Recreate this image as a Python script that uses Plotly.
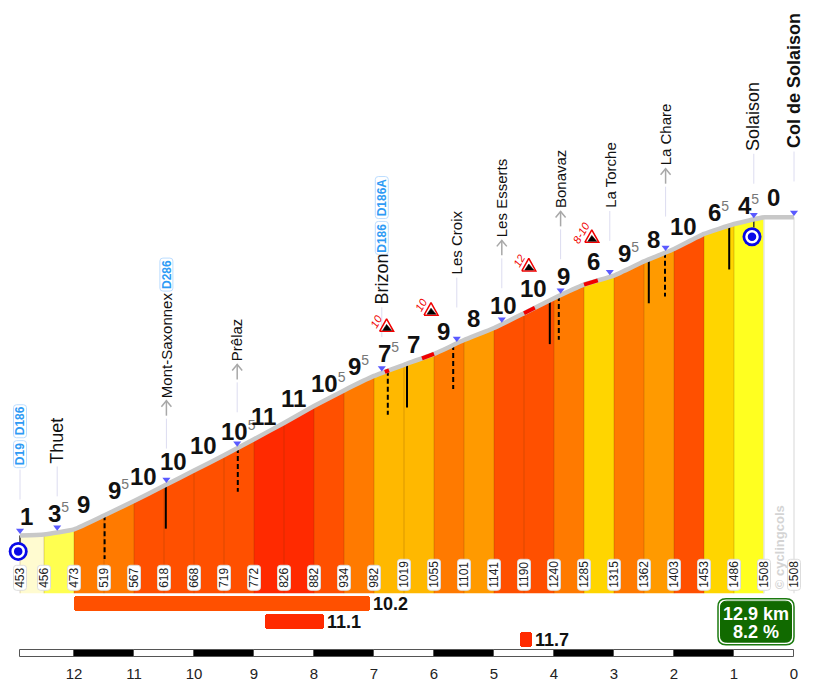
import numpy as np
import plotly.graph_objects as go

# Climb profile: distance to the summit (km) and altitude (m)
profile_km = [12.9, 12.5, 12, 11.5, 11, 10.5, 10, 9.5, 9, 8.5, 8, 7.5, 7, 6.5, 6, 5.5, 5, 4.5, 4, 3.5, 3, 2.5, 2, 1.5, 1, 0.5, 0]
profile_alt = [453, 456, 473, 519, 567, 618, 668, 719, 772, 826, 882, 934, 982, 1019, 1055, 1101, 1141, 1190, 1240, 1285, 1315, 1362, 1403, 1453, 1486, 1508, 1508]
slope_labels = ["1", "3.5", "9", "9.5", "10", "10", "10", "10.5", "11", "11", "10.5", "9.5", "7.5", "7", "9", "8", "10", "10", "9", "6", "9.5", "8", "10", "6.5", "4.5", "0"]
slope_colors = ["#FFFBD0", "#FFFF50", "#FF7A00", "#FF7A00", "#FF5000", "#FF5000", "#FF5000", "#FF5000", "#FF2A00", "#FF2A00",
                "#FF5000", "#FF7A00", "#FFB800", "#FFB800", "#FF7A00", "#FF9A00", "#FF5000", "#FF5000", "#FF7A00", "#FFD500",
                "#FF7A00", "#FF9A00", "#FF5000", "#FFD500", "#FFFF20", "#FFFFFF"]
label_lift = [18.5, 19, 18, 18, 17, 16.5, 17, 16.5, 15, 16, 15, 17, 17, 15, 16, 16, 15, 17, 15, 19, 15, 16, 15, 17, 16, 20]

# Places along the road
place_km = [12.9, 12.28, 10.46, 9.28, 6.87, 5.62, 4.87, 3.89, 3.07, 2.14, 0.67, 0]
place_names = ["", "Thuet", "Mont-Saxonnex", "Prêlaz", "Brizon", "Les Croix", "Les Esserts", "Bonavaz", "La Torche", "La Chare", "Solaison", "Col de Solaison"]
place_size = [15, 18, 15, 15, 18, 15, 15, 15, 15, 15, 18, 18]
place_arrow = [False, False, True, True, False, False, True, True, False, True, False, False]
road_badges = [["D19", "D186"], [], ["D286"], [], ["D186", "D186A"], [], [], [], [], [], [], []]

# Side roads leaving the climb
junction_km = [11.49, 10.47, 9.27, 6.77, 6.45, 5.68, 4.07, 3.92, 2.42, 2.15, 1.08]
junction_dashed = [True, False, True, True, False, True, False, True, False, True, False]

# Steepest pitches
pitch_start = [6.82, 6.2, 4.5, 3.5]
pitch_end = [6.75, 6.0, 4.32, 3.27]
sign_km = [6.79, 6.05, 4.42, 3.37]
sign_text = ["10", "10", "12", "8-10"]

# Roundabouts
roundabout_km = [12.93, 0.70]

# Hardest stretches: start km, end km, mean gradient
hard_start = [12.0, 8.82, 4.56]
hard_end = [7.07, 7.83, 4.37]
hard_value = [10.2, 11.1, 11.7]
hard_color = ["#FF5000", "#FF2A00", "#FF2A00"]

# Distance scale
scale_edges = [12.9, 12, 11, 10, 9, 8, 7, 6, 5, 4, 3, 2, 1, 0]
scale_ticks = list(range(13))

total_km = "12.9 km"
mean_slope = "8.2 %"

PX_PER_KM = 60.0
M_PER_PX = 1055.0 / 319.0
NARROW = "Liberation Sans Narrow, Arial Narrow, Liberation Sans"
SANS = "Liberation Sans, Arial"


def km_at(px):
    return (794 - px) / PX_PER_KM


def alt_at(py):
    return 453 + (537 - py) * M_PER_PX


def surface(km):
    return np.interp(-np.asarray(km, dtype=float), -np.array(profile_km), profile_alt)


def rounded(x0, y0, x1, y1, r):
    return (f"M {x0 + r} {y0} L {x1 - r} {y0} Q {x1} {y0} {x1} {y0 + r} L {x1} {y1 - r} Q {x1} {y1} {x1 - r} {y1} "
            f"L {x0 + r} {y1} Q {x0} {y1} {x0} {y1 - r} L {x0} {y0 + r} Q {x0} {y0} {x0 + r} {y0} Z")


def chip(km, py_top, py_bottom, width, fill="white", line="#DDDDDD", lw=1, r=3):
    h = py_bottom - py_top
    return dict(type="path", xref="x", yref="y", xsizemode="pixel", ysizemode="pixel",
                xanchor=km, yanchor=alt_at((py_top + py_bottom) / 2),
                path=rounded(-width / 2, -h / 2, width / 2, h / 2, r),
                fillcolor=fill, line=dict(color=line, width=lw), layer="above")


def value_text(label):
    # Half-degrees get a small grey superscript
    if label.endswith(".5"):
        return f"<b>{label[:-2]}</b><sup><span style='color:#777777;font-size:14px'>5</span></sup>"
    return f"<b>{label}</b>"


fig = go.Figure()
shapes = []
notes = []
base = alt_at(595)

# Gradient-coloured blocks under the road
for i, col in enumerate(slope_colors):
    fig.add_trace(go.Scatter(
        x=[profile_km[i], profile_km[i], profile_km[i + 1], profile_km[i + 1]],
        y=[base, profile_alt[i], profile_alt[i + 1], base],
        mode="lines", fill="toself", fillcolor=col, line=dict(width=0), hoverinfo="skip"))

# Separators between blocks
sep_x, sep_y = [], []
for km, alt in zip(profile_km[:-2], profile_alt[:-2]):
    sep_x += [km, km, None]
    sep_y += [base, alt, None]
fig.add_trace(go.Scatter(x=sep_x, y=sep_y, mode="lines", line=dict(color="rgba(90,50,0,0.22)", width=1), hoverinfo="skip"))
for km, alt in zip(profile_km[-2:], profile_alt[-2:]):
    fig.add_trace(go.Scatter(x=[km, km], y=[base, alt], mode="lines", line=dict(color="#E4E4E4", width=1.5), hoverinfo="skip"))

# Side-road ticks
for km, dashed in zip(junction_km, junction_dashed):
    top = float(surface(km))
    fig.add_trace(go.Scatter(x=[km, km], y=[top, top - 44 * M_PER_PX], mode="lines",
                             line=dict(color="black", width=2, dash="5px,3px" if dashed else "solid"), hoverinfo="skip"))

# Short ticks down to the roundabouts
for km in [12.9, place_km[10]]:
    top = float(surface(km))
    fig.add_trace(go.Scatter(x=[km, km], y=[top, top - 8 * M_PER_PX], mode="lines", line=dict(color="#333333", width=1.5), hoverinfo="skip"))

# Road surface
fig.add_trace(go.Scatter(x=profile_km, y=profile_alt, mode="lines",
                         line=dict(color="#C8C8C8", width=4.5, shape="spline", smoothing=0.4), hoverinfo="skip"))
for a, b in zip(pitch_start, pitch_end):
    fig.add_trace(go.Scatter(x=[a, b], y=surface([a, b]), mode="lines", line=dict(color="#F00000", width=4), hoverinfo="skip"))

# Leader lines and arrows for the places
lead_x, lead_y, arrow_x, arrow_y = [], [], [], []
for km, name, size, arrow, badges in zip(place_km, place_names, place_size, place_arrow, road_badges):
    surf_py = 537 - (float(surface(km)) - 453) / M_PER_PX
    py = surf_py - 36
    lead_x += [km, km, None]
    lead_y += [alt_at(py), alt_at(py - 30), None]
    py -= 32
    if arrow:
        py -= 1
        arrow_x += [km, km, None, km + 5 / PX_PER_KM, km, km - 5 / PX_PER_KM, None]
        arrow_y += [alt_at(py), alt_at(py - 15), None, alt_at(py - 9), alt_at(py - 15), alt_at(py - 9), None]
        py -= 17
    if name:
        bold = name.startswith("Col")
        notes.append(dict(x=km, y=alt_at(py), text=f"<b>{name}</b>" if bold else name, textangle=-90,
                          xanchor="center", yanchor="bottom", showarrow=False,
                          font=dict(family=SANS, size=size, color="#111111"), borderpad=0))
        py -= {"Thuet": 48, "Brizon": 50, "Mont-Saxonnex": 107}.get(name, 0) + 1
    for tag in badges:
        h = 8 * len(tag) - (1 if len(tag) == 5 else 0)
        h = {3: 27, 4: 33, 5: 42}[len(tag)]
        shapes.append(chip(km, py - h, py, 13, line="#BBDDFF"))
        notes.append(dict(x=km, y=alt_at(py - h / 2), text=f"<b>{tag}</b>", textangle=-90, showarrow=False,
                          font=dict(family=SANS, size=12, color="#2E9BF5"), borderpad=0))
        py -= h + 3
fig.add_trace(go.Scatter(x=lead_x, y=lead_y, mode="lines", line=dict(color="#DCDCF0", width=1), hoverinfo="skip"))
fig.add_trace(go.Scatter(x=arrow_x, y=arrow_y, mode="lines", line=dict(color="#A8A8A8", width=1.5), hoverinfo="skip"))
fig.add_trace(go.Scatter(x=place_km, y=surface(place_km) + 5 * M_PER_PX, mode="markers",
                         marker=dict(symbol="triangle-down", size=7, color="#5A5AFF"), hoverinfo="skip"))

# Warning signs for the steepest pitches
for km, txt in zip(sign_km, sign_text):
    top = 537 - (float(surface(km)) - 453) / M_PER_PX - 46
    fig.add_trace(go.Scatter(
        x=[km + 7 / PX_PER_KM, km, km - 7 / PX_PER_KM, km + 7 / PX_PER_KM],
        y=[alt_at(top + 6), alt_at(top - 6.5), alt_at(top + 6), alt_at(top + 6)],
        mode="lines", fill="toself", fillcolor="white", line=dict(color="#F00000", width=1.5), hoverinfo="skip"))
    fig.add_trace(go.Scatter(
        x=[km + 4 / PX_PER_KM, km, km - 5 / PX_PER_KM, km + 4 / PX_PER_KM],
        y=[alt_at(top + 5), alt_at(top - 1), alt_at(top + 5), alt_at(top + 5)],
        mode="lines", fill="toself", fillcolor="black", line=dict(color="black", width=0.5), hoverinfo="skip"))
    notes.append(dict(x=km + (10 if txt != "8-10" else 10) / PX_PER_KM, y=alt_at(top - 4), text=f"<i>{txt}</i>", textangle=-60,
                      showarrow=False, font=dict(family=SANS, size=11, color="#F00000"), borderpad=0))

# Roundabout symbols
ra_x, ra_y = roundabout_km, [alt_at(553), alt_at(237.5)]
fig.add_trace(go.Scatter(x=ra_x, y=ra_y, mode="markers", marker=dict(symbol="circle", size=19, color="#0808E8"), hoverinfo="skip"))
fig.add_trace(go.Scatter(x=ra_x, y=ra_y, mode="markers",
                         marker=dict(symbol="circle-open", size=11, color="white", line=dict(color="white", width=2.5)), hoverinfo="skip"))

# Altitude tags
for km, alt in zip(profile_km, profile_alt):
    h = 31 if alt >= 1000 else 25
    shapes.append(chip(km, 592 - h, 592, 13))
    notes.append(dict(x=km, y=alt_at(592 - h / 2), text=str(alt), textangle=-90, showarrow=False,
                      font=dict(family=SANS, size=12, color="#222222"), borderpad=0))

# Hardest-stretch bars and their gradients
for a, b, val, col, py in zip(hard_start, hard_end, hard_value, hard_color, [605.5, 623.5, 641.5]):
    fig.add_trace(go.Bar(base=[b], x=[a - b], y=[alt_at(py)], orientation="h", width=15 * M_PER_PX,
                         marker=dict(color=col, line=dict(width=0), cornerradius=3), hoverinfo="skip"))
    notes.append(dict(x=b, y=alt_at(py), text=f"<b>{val}</b>", xanchor="left", showarrow=False, xshift=2,
                      font=dict(family=NARROW, size=18, color="#111111"), borderpad=0))

# Distance scale: alternating kilometres
for i, (a, b) in enumerate(zip(scale_edges[:-1], scale_edges[1:])):
    fig.add_trace(go.Bar(base=[b], x=[a - b], y=[alt_at(655.5)], orientation="h", width=7 * M_PER_PX,
                         marker=dict(color="black" if i % 2 else "white", line=dict(color="#555555", width=1)), hoverinfo="skip"))

# Summary box
box_km = km_at(756)
shapes.append(chip(box_km, 600.5, 646.5, 76, fill="white", line="#1B7A0F", lw=1.5, r=8))
shapes.append(chip(box_km, 603, 644, 71, fill="#116A00", line="#116A00", lw=1, r=6))
notes.append(dict(x=box_km, y=alt_at(616), text=f"<b>{total_km}</b>", showarrow=False,
                  font=dict(family=NARROW, size=18, color="white"), borderpad=0))
notes.append(dict(x=box_km, y=alt_at(634), text=f"<b>{mean_slope}</b>", showarrow=False,
                  font=dict(family=NARROW, size=18, color="white"), borderpad=0))

# Gradient values above the road
for i, lab in enumerate(slope_labels):
    mid_km = (profile_km[i] + profile_km[i + 1]) / 2
    mid_alt = (profile_alt[i] + profile_alt[i + 1]) / 2
    notes.append(dict(x=mid_km, y=mid_alt, yshift=label_lift[i], xshift=-1 if "." in lab else -6, text=value_text(lab),
                      showarrow=False, font=dict(family=NARROW, size=24, color="#111111"), borderpad=0))

# Credit
notes.append(dict(x=km_at(779), y=alt_at(592), text="<b>© cyclingcols</b>", textangle=-90, yanchor="bottom", showarrow=False,
                  font=dict(family=SANS, size=13, color="#D4D4D4"), borderpad=0))

fig.update_layout(
    width=814, height=682, autosize=False, showlegend=False, barmode="overlay", bargap=0,
    margin=dict(l=0, r=0, t=0, b=0), paper_bgcolor="white", plot_bgcolor="white",
    shapes=shapes, annotations=notes,
    xaxis=dict(range=[km_at(0), km_at(814)], domain=[0, 1], showgrid=False, zeroline=False, showline=False,
               tickmode="array", tickvals=scale_ticks, ticktext=[str(t) for t in scale_ticks],
               ticks="outside", ticklen=3, tickcolor="rgba(0,0,0,0)", tickfont=dict(family=SANS, size=15, color="#222222")),
    yaxis=dict(range=[alt_at(659), alt_at(0)], domain=[(682 - 659) / 682, 1], visible=False, showgrid=False, zeroline=False),
)

fig.write_html("out.html")
